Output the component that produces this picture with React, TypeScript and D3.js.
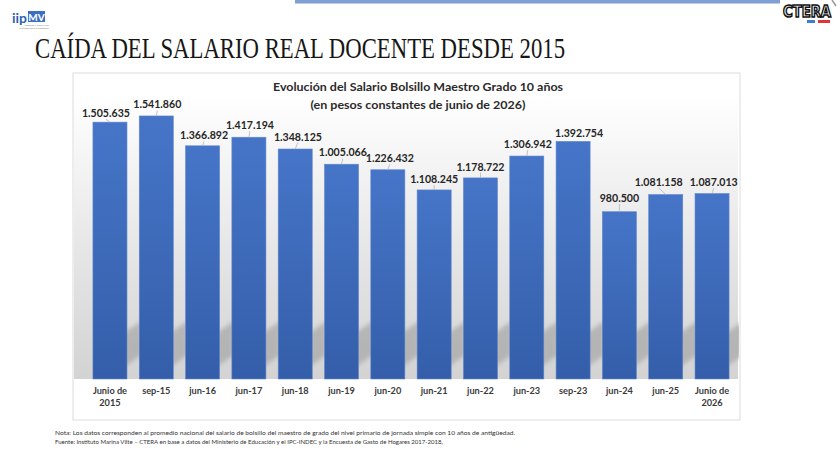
/**
 * Caída del salario real docente: bar chart with value labels,
 * Excel-like gradient backdrop and soft bar shadows. D3 rendering.
 */
import { useEffect, useRef } from 'react'
import * as d3 from 'd3'

// categories (two-line labels split by '|')
const categories = [
  'Junio de|2015', 'sep-15', 'jun-16', 'jun-17', 'jun-18', 'jun-19', 'jun-20',
  'jun-21', 'jun-22', 'jun-23', 'sep-23', 'jun-24', 'jun-25', 'Junio de|2026',
]
// printed value labels (as they appear on the slide)
const valueLabels = [
  '1.505.635', '1.541.860', '1.366.892', '1.417.194', '1.348.125', '1.005.066', '1.226.432',
  '1.108.245', '1.178.722', '1.306.942', '1.392.754', '980.500', '1.081.158', '1.087.013',
]
// bar heights (jun-19 bar is drawn taller than its label)
const barValues = [
  1505635, 1541860, 1366892, 1417194, 1348125, 1259000, 1226432,
  1108245, 1178722, 1306942, 1392754, 980500, 1081158, 1087013,
]

const chartTitle = ['Evolución del Salario Bolsillo Maestro Grado 10 años', '(en pesos constantes de junio de 2026)']
const slideTitle = 'CAÍDA DEL SALARIO REAL DOCENTE DESDE 2015'
const notes = [
  'Nota: Los datos corresponden al promedio nacional del salario de bolsillo del maestro de grado del nivel primario de jornada simple con 10 años de antigüedad.',
  ' Fuente: Instituto Marina Vilte – CTERA en base a datos del Ministerio de Educación y el IPC-INDEC y la Encuesta de Gasto de Hogares 2017-2018,',
]

const W = 840
const H = 457
const PANEL = { x: 73, y: 73, w: 667, h: 347 }
const BASE_Y = 379
const SANS = 'Lato, "Open Sans", sans-serif'
// hand-placed data-label offsets (dx, dy) as on the slide
const LABEL_NUDGE: [number, number][] = [
  [-4, 2.3], [1, -0.4], [1.5, 0.7], [1, -1], [2.7, -1.3], [1.3, -0.6], [2, -0.3],
  [0, 0.3], [0, 0], [1, -1], [6, 3.3], [0, -2.7], [-7, -1.6], [1.7, -0.3],
]

export default function App() {
  const svgRef = useRef<SVGSVGElement>(null)

  useEffect(() => {
    if (!svgRef.current) return
    const svg = d3.select(svgRef.current)
    svg.selectAll('*').remove()

    const defs = svg.append('defs')
    const bg = defs.append('linearGradient').attr('id', 'bgGrad')
      .attr('gradientUnits', 'userSpaceOnUse')
      .attr('x1', 0).attr('x2', 0).attr('y1', 95).attr('y2', BASE_Y)
    bg.append('stop').attr('offset', 0).attr('stop-color', '#ffffff')
    bg.append('stop').attr('offset', 0.55).attr('stop-color', '#e6e6e6')
    bg.append('stop').attr('offset', 1).attr('stop-color', '#d3d3d3')

    const barGrad = defs.append('linearGradient').attr('id', 'barGrad')
      .attr('x1', 0).attr('x2', 0).attr('y1', 0).attr('y2', 1)
    barGrad.append('stop').attr('offset', 0).attr('stop-color', '#4675c8')
    barGrad.append('stop').attr('offset', 1).attr('stop-color', '#345ea9')

    defs.append('filter').attr('id', 'blur').attr('x', -0.5).attr('y', -0.5).attr('width', 2).attr('height', 2)
      .append('feGaussianBlur').attr('stdDeviation', 2.2)

    defs.append('clipPath').attr('id', 'panelClip')
      .append('rect').attr('x', PANEL.x + 1).attr('y', PANEL.y + 1).attr('width', PANEL.w - 2).attr('height', PANEL.h - 2)

    // top decorations
    svg.append('rect').attr('x', 295).attr('y', 0).attr('width', 485).attr('height', 3.5).attr('fill', '#7f9ed4')
    svg.append('line').attr('x1', 832).attr('y1', 0).attr('x2', 836).attr('y2', 6)
      .attr('stroke', '#9a9a9a').attr('stroke-width', 1.5)

    // iipMV logo
    svg.append('text').attr('x', 12).attr('y', 22.5).attr('font-family', SANS).attr('font-weight', 700)
      .attr('font-size', 13).attr('fill', '#2f5fb0')
      .attr('textLength', 15).attr('lengthAdjust', 'spacingAndGlyphs').text('iip')
    svg.append('rect').attr('x', 28).attr('y', 11).attr('width', 17).attr('height', 11).attr('fill', '#3b6fc4')
    svg.append('text').attr('x', 36.5).attr('y', 20.5).attr('text-anchor', 'middle').attr('font-family', SANS)
      .attr('font-weight', 700).attr('font-size', 10).attr('fill', '#ffffff').text('MV')
    svg.append('text').attr('x', 36.5).attr('y', 25.5).attr('text-anchor', 'middle').attr('font-family', SANS)
      .attr('font-size', 2.6).attr('fill', '#6f7f99').text('Instituto Marina Vilte')
    svg.append('text').attr('x', 34).attr('y', 28.5).attr('text-anchor', 'middle').attr('font-family', SANS)
      .attr('font-size', 2.4).attr('fill', '#8a8a8a').text('Investigaciones Pedagógicas')

    // CTERA logo
    svg.append('text').attr('x', 807).attr('y', 17).attr('text-anchor', 'middle')
      .attr('font-family', '"DejaVu Sans Condensed", "Liberation Sans Narrow", sans-serif')
      .attr('font-weight', 700).attr('font-size', 16).attr('fill', '#ffffff')
      .attr('stroke', '#111111').attr('stroke-width', 1.5)
      .attr('textLength', 48).attr('lengthAdjust', 'spacingAndGlyphs').text('CTERA')
    svg.append('rect').attr('x', 807).attr('y', 20).attr('width', 8).attr('height', 3).attr('fill', '#3f7fd0')
    svg.append('rect').attr('x', 818).attr('y', 20).attr('width', 12).attr('height', 3).attr('fill', '#e0343c')

    // slide title
    svg.append('text').attr('x', 35).attr('y', 58)
      .attr('font-family', '"Liberation Serif", "DejaVu Serif", serif')
      .attr('font-size', 29).attr('fill', '#161616')
      .attr('textLength', 530).attr('lengthAdjust', 'spacingAndGlyphs')
      .text(slideTitle)

    // chart panel
    svg.append('rect').attr('x', PANEL.x).attr('y', PANEL.y).attr('width', PANEL.w).attr('height', PANEL.h)
      .attr('fill', '#ffffff').attr('stroke', '#dcdcdc').attr('stroke-width', 1)

    const inner = svg.append('g').attr('clip-path', 'url(#panelClip)')
    inner.append('rect').attr('x', PANEL.x + 1).attr('y', 95).attr('width', PANEL.w - 3).attr('height', BASE_Y - 95)
      .attr('fill', 'url(#bgGrad)')

    const x = d3.scaleBand<string>()
      .domain(categories)
      .range([86.8, 735.2])
      .paddingInner(0.265)
      .paddingOuter(0.1325)
    const y = d3.scaleLinear().domain([0, 1600000]).range([BASE_Y, BASE_Y - 1.6 * 170.6])

    const rows = categories.map((c, i) => ({
      c, i, v: barValues[i], label: valueLabels[i],
      cx: x(c)! + x.bandwidth() / 2,
      lx: x(c)! + x.bandwidth() / 2 + LABEL_NUDGE[i][0],
      ly: y(barValues[i]) - 7.2 + LABEL_NUDGE[i][1],
    }))
    const gap = x.step() - x.bandwidth()

    // soft shadows cast up-right of each bar
    inner.selectAll('.shadow').data(rows).join('polygon')
      .attr('points', d => {
        const x1 = x(d.c)! + x.bandwidth()
        return [
          [x1 - 3, BASE_Y - 12], [x1 - 3, BASE_Y - 46],
          [x1 + gap + 2, BASE_Y - 58], [x1 + gap + 2, BASE_Y - 24],
        ].map(p => p.join(',')).join(' ')
      })
      .attr('fill', '#a9a9a9').attr('opacity', 0.75).attr('filter', 'url(#blur)')

    // bars
    inner.selectAll('.bar').data(rows).join('rect')
      .attr('x', d => x(d.c)!)
      .attr('y', d => y(d.v))
      .attr('width', x.bandwidth())
      .attr('height', d => y(0) - y(d.v))
      .attr('fill', 'url(#barGrad)')
      .attr('stroke', '#5f86cf').attr('stroke-width', 0.6)

    // leader lines from label to bar top
    inner.selectAll('.lead').data(rows.filter(d => y(d.v) - (d.ly + 2) > 2)).join('line')
      .attr('x1', d => d.lx).attr('x2', d => d.cx)
      .attr('y1', d => d.ly + 2).attr('y2', d => y(d.v))
      .attr('stroke', '#b5b5b5').attr('stroke-width', 0.8)

    svg.selectAll('.val').data(rows).join('text')
      .attr('x', d => d.lx)
      .attr('y', d => d.ly)
      .attr('text-anchor', 'middle')
      .attr('font-family', SANS).attr('font-weight', 700).attr('font-size', 10.6)
      .attr('fill', '#262626')
      .text(d => d.label)

    // category labels
    const cat = svg.selectAll('.cat').data(rows).join('text')
      .attr('text-anchor', 'middle')
      .attr('font-family', SANS).attr('font-weight', 700).attr('font-size', 9.2)
      .attr('fill', '#3a3a3a')
    cat.selectAll('tspan').data(d => d.c.split('|').map(t => ({ t, cx: d.cx })))
      .join('tspan')
      .attr('x', d => d.cx)
      .attr('y', (_, j) => 394 + j * 11.5)
      .text(d => d.t)

    // chart title
    chartTitle.forEach((t, i) => {
      svg.append('text').attr('x', 418).attr('y', 91 + i * 17.5).attr('text-anchor', 'middle')
        .attr('font-family', SANS).attr('font-weight', 700).attr('font-size', 12)
        .attr('fill', '#2b2b2b')
        .attr('textLength', i === 0 ? 290 : 215).attr('lengthAdjust', 'spacingAndGlyphs')
        .text(t)
    })

    // notes
    notes.forEach((t, i) => {
      svg.append('text').attr('x', 55).attr('y', 434.5 + i * 9)
        .attr('font-family', SANS).attr('font-size', 6.3).attr('fill', '#333333')
        .attr('textLength', i === 0 ? 460 : 388).attr('lengthAdjust', 'spacingAndGlyphs')
        .text(t)
    })
  }, [])

  return (
    <svg ref={svgRef} width={W} height={H}
      style={{ position: 'absolute', left: 0, top: 0, display: 'block', background: '#ffffff' }} />
  )
}
